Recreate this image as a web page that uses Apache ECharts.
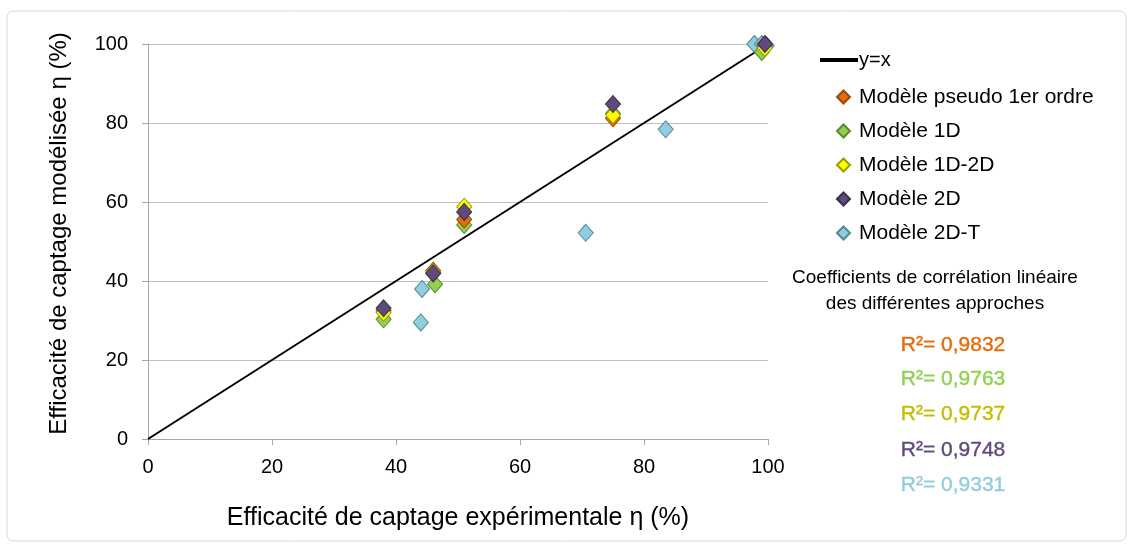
<!DOCTYPE html>
<html lang="fr">
<head>
    <meta charset="UTF-8">
    <title>Efficacité de captage</title>
    <style>
        html, body { margin: 0; padding: 0; background: #fff; }
        #chart { width: 1131px; height: 545px; }
    </style>
</head>
<body>
    <div id="chart"></div>
    <script src="https://cdn.jsdelivr.net/npm/echarts@6/dist/echarts.min.js"></script>
    <script>
        var lineYX = [[0, 0], [100, 100]];
        var pseudo1 = [[38, 32.5], [46, 42.6], [51, 55.6], [75, 81.2], [99.5, 99.4]];
        var model1D = [[38, 30.3], [46.3, 39.2], [51, 54.2], [75, 82.4], [99, 98]];
        var model1D2D = [[38, 32], [46, 42.2], [51, 58.8], [75, 82], [99.5, 99]];
        var model2D = [[38, 33.1], [46, 41.9], [51, 57.5], [75, 84.8], [99.5, 100]];
        var model2DT = [[44, 29.5], [44.2, 38], [70.6, 52.2], [83.5, 78.4], [97.8, 100], [99, 100], [99.8, 99.6]];
        var xTicks = [0, 20, 40, 60, 80, 100];
        var r2Labels = ['R²= 0,9832', 'R²= 0,9763', 'R²= 0,9737', 'R²= 0,9748', 'R²= 0,9331'];

        var colors = ['#E46C0A', '#92D050', '#FFFF00', '#604A7B', '#93CDDD'];
        var borders = ['#9C4A08', '#5E8A2E', '#9C9C00', '#3B2C4D', '#4F8A99'];
        var r2Colors = ['#E46C0A', '#92D050', '#C4BD00', '#604A7B', '#93CDDD'];
        var names = ['Modèle pseudo 1er ordre', 'Modèle 1D', 'Modèle 1D-2D', 'Modèle 2D', 'Modèle 2D-T'];
        var sets = [pseudo1, model1D, model1D2D, model2D, model2DT];
        var font = 'Liberation Sans, Arial, sans-serif';

        var myChart = echarts.init(document.getElementById('chart'));

        var series = [{
            name: 'y=x',
            type: 'line',
            data: lineYX,
            symbol: 'none',
            color: '#000',
            itemStyle: { color: '#000' },
            lineStyle: { color: '#000', width: 2 },
            z: 1
        }];
        // ordre de dessin : le 2D-T dessous, puis les autres
        var order = [4, 1, 0, 2, 3];
        order.forEach(function (i) {
            series.push({
                name: names[i],
                type: 'scatter',
                data: sets[i],
                symbol: 'diamond',
                symbolSize: [15, 17],
                itemStyle: { color: colors[i], borderColor: borders[i], borderWidth: 1, opacity: 1 },
                z: 3
            });
        });

        var graphics = [{
            type: 'rect',
            shape: { x: 7, y: 11, width: 1119, height: 530, r: 6 },
            style: { fill: 'none', stroke: '#D9D9D9', lineWidth: 1 },
            z: -1
        }, {
            type: 'text',
            x: 935, y: 265,
            style: { text: 'Coefficients de corrélation linéaire\ndes différentes approches', font: '19px ' + font, fill: '#000', align: 'center', lineHeight: 26 }
        }];
        r2Labels.forEach(function (t, i) {
            graphics.push({
                type: 'text',
                x: 953, y: [335, 369, 404, 440, 475][i],
                style: { text: t, font: '21px ' + font, fill: r2Colors[i], align: 'center', stroke: r2Colors[i], lineWidth: 0.4 }
            });
        });

        var option = {
            animation: false,
            backgroundColor: '#fff',
            grid: { left: 148, right: 363, top: 44, bottom: 106 },
            xAxis: {
                type: 'value', min: 0, max: 100, interval: 20,
                name: 'Efficacité de captage expérimentale η (%)',
                nameLocation: 'middle', nameGap: 67,
                nameTextStyle: { fontSize: 25, color: '#000', fontFamily: font },
                axisLine: { show: true, lineStyle: { color: '#A6A6A6' } },
                axisTick: { show: true, inside: false, length: 6, lineStyle: { color: '#A6A6A6' } },
                axisLabel: { fontSize: 20, color: '#000', fontFamily: font, margin: 18,
                    formatter: function (v) { return xTicks.indexOf(v) >= 0 ? String(v) : ''; } },
                splitLine: { show: false }
            },
            yAxis: {
                type: 'value', min: 0, max: 100, interval: 20,
                name: 'Efficacité de captage modélisée η (%)',
                nameLocation: 'middle', nameGap: 77,
                nameTextStyle: { fontSize: 24, color: '#000', fontFamily: font, padding: [0, 0, 0, 16] },
                axisLine: { show: true, lineStyle: { color: '#A6A6A6' } },
                axisTick: { show: true, length: 6, lineStyle: { color: '#A6A6A6' } },
                axisLabel: { fontSize: 20, color: '#000', fontFamily: font, margin: 20 },
                splitLine: { show: true, lineStyle: { color: '#BFBFBF', width: 1 } }
            },
            legend: [{
                orient: 'vertical',
                left: 815, top: 45,
                itemWidth: 38, itemHeight: 12,
                data: [{ name: 'y=x', icon: 'path://M0,5L10,5L10,6L0,6Z', itemStyle: { color: '#000' } }],
                textStyle: { fontSize: 20, color: '#000', fontFamily: font, padding: [0, 0, 0, -4] }
            }, {
                orient: 'vertical',
                left: 831, top: 80,
                itemWidth: 13, itemHeight: 13, itemGap: 10,
                data: names.map(function (n) { return { name: n, icon: 'diamond' }; }),
                textStyle: { fontSize: 21, color: '#000', fontFamily: font, lineHeight: 24, padding: [0, 0, 0, 4] }
            }],
            series: series,
            graphic: graphics
        };
        myChart.setOption(option);
    </script>
</body>
</html>
